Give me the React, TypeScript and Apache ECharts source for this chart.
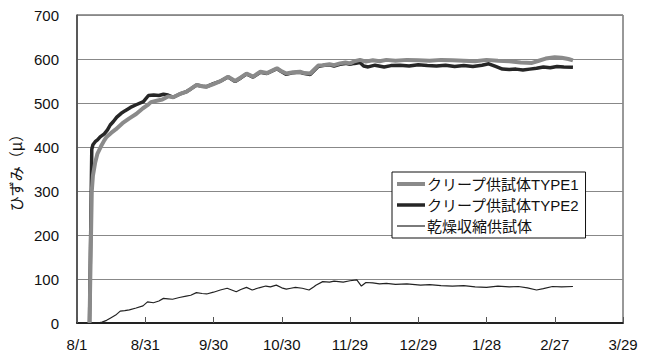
import React, { useEffect, useRef } from "react";
import * as echarts from "echarts";

// Date ticks every 30 days starting from 8/1 (day 0)
const xTickLabels = ["8/1", "8/31", "9/30", "10/30", "11/29", "12/29", "1/28", "2/27", "3/29"];

const seriesNames = ["クリープ供試体TYPE1", "クリープ供試体TYPE2", "乾燥収縮供試体"];

// Creep specimen TYPE1: elapsed day / strain (μ)
const type1Days = [
  5.5, 6.5, 7, 8, 9, 10.5, 12, 13, 15, 17, 20, 23, 26, 29, 31, 32.5, 35, 37.5, 40, 42.3,
  45, 48.2, 50, 52.6, 55, 57, 60, 62.8, 66.4, 69.5, 72, 74.5, 77.4, 80.6, 83.5, 87.9, 90, 92,
  95, 98, 100, 102.5, 106, 108, 111, 113, 115.6, 118, 120, 122, 124.4, 127, 130, 133, 136,
  140, 145, 150, 155, 160, 165, 170, 175, 180, 185, 190, 195, 200, 203, 206, 210, 213, 216, 218,
];
const type1Values = [
  0, 300, 335, 365, 385, 401, 415, 423, 432, 440, 454, 465, 475, 488, 495, 502, 505, 508, 515, 513,
  520, 526, 532, 541, 538, 537, 543, 549, 560, 550, 558, 567, 560, 571, 568, 579, 572, 567,
  570, 571, 568, 567, 585, 586, 588, 586, 590, 592, 590, 595, 598, 594, 597, 595, 598,
  596, 598, 597, 596, 598, 597, 596, 595, 598, 596, 595, 592, 591, 596, 601, 604, 603, 600, 597,
];

// Creep specimen TYPE2
const type2Days = [
  5.5, 6.5, 7, 8, 9, 10.2, 12, 13.4, 14.6, 16, 17.5, 19.3, 21, 23.5, 26, 29.2, 31.4, 33.7, 36, 38,
  40, 42.3, 45, 48.2, 50, 52.6, 55, 57, 60, 62.8, 66.4, 69.5, 72, 74.5, 77.4, 80.6, 83.5, 87.9,
  90, 92, 95, 98, 100, 102.5, 106, 108, 111, 113, 115.6, 118, 120, 122, 124.4, 126, 128, 131,
  135, 138, 142, 146, 150, 154, 158, 162, 166, 170, 174, 178, 181, 184, 187, 190, 193, 196, 199,
  202, 205, 208, 211, 214, 218,
];
const type2Values = [
  0, 395, 405, 412, 416, 423, 430, 439, 450, 458, 468, 476, 482, 490, 496, 503, 517, 518, 517, 520,
  518, 513, 520, 526, 532, 541, 538, 537, 544, 549, 559, 549, 557, 566, 559, 570, 567, 578,
  571, 565, 569, 570, 567, 565, 583, 585, 587, 584, 588, 590, 588, 590, 592, 584, 582, 586,
  582, 585, 586, 584, 587, 585, 584, 586, 583, 585, 583, 586, 589, 583, 577, 576, 577, 575, 577,
  579, 582, 580, 583, 582, 581,
];

// Drying shrinkage specimen
const shrinkDays = [
  5.5, 9, 11, 13, 14.6, 17, 19, 21, 23, 26, 29, 31, 33.6, 36, 38, 40, 42, 45, 48, 50, 52.5, 55,
  57, 60, 63, 66, 68, 70, 72, 74.5, 77, 80, 83, 85, 87.6, 90, 92, 94, 96, 99, 102, 104, 105,
  108, 111, 113, 117, 120, 123, 125, 127, 130, 133, 136, 140, 145, 151, 155, 160, 165, 170,
  175, 180, 185, 190, 194, 198, 202, 205, 209, 213, 218,
];
const shrinkValues = [
  0, 0, 2, 6, 11, 18, 27, 28, 30, 34, 39, 48, 46, 50, 56, 55, 54, 58, 61, 63, 69, 67,
  66, 70, 75, 79, 75, 71, 76, 81, 75, 80, 84, 82, 86, 80, 77, 79, 81, 79, 75, 82, 86,
  94, 93, 95, 93, 96, 98, 84, 92, 91, 89, 90, 88, 89, 86, 87, 85, 84, 85,
  82, 81, 84, 82, 83, 80, 75, 78, 83, 82, 83,
];

const pairs = (xs: number[], ys: number[]) => xs.map((x, i) => [x, ys[i]]);

const FONT = "'Liberation Sans', 'Noto Sans CJK JP', sans-serif";

// Line appearance per series (colour, width)
const lineColors = ["#8a8a8a", "#262626", "#222222"];
const lineWidths = [4, 3.5, 1.2];

export default function App() {
  const ref = useRef<HTMLDivElement>(null);

  useEffect(() => {
    if (!ref.current) return;
    const chart = echarts.init(ref.current, undefined, { renderer: "svg" });
    chart.setOption({
      animation: false,
      backgroundColor: "#ffffff",
      textStyle: { fontFamily: FONT },
      grid: {
        left: 76,
        right: 23,
        top: 15,
        bottom: 34,
        show: true,
        borderColor: "#333",
        borderWidth: 1,
      },
      legend: {
        orient: "vertical",
        left: 392,
        top: 172,
        data: seriesNames.map((name, i) => ({
          name,
          lineStyle: { width: lineWidths[i], color: lineColors[i] },
        })),
        backgroundColor: "#ffffff",
        borderColor: "#111",
        borderWidth: 1,
        borderRadius: 0,
        padding: [2, 6, 2, 3],
        itemGap: 1,
        itemWidth: 28,
        itemHeight: 2,
        itemStyle: { opacity: 0 },
        textStyle: { fontSize: 15, color: "#111", fontFamily: FONT, lineHeight: 20, padding: [0, 0, 0, -3] },
      },
      xAxis: {
        type: "value",
        min: 0,
        max: 240,
        interval: 30,
        axisLine: { show: true, lineStyle: { color: "#222", width: 2 } },
        axisTick: { show: true, inside: true, length: 6, lineStyle: { color: "#555", width: 1 } },
        splitLine: { show: false },
        axisLabel: {
          margin: 14,
          fontSize: 15,
          color: "#111",
          fontFamily: FONT,
          formatter: (v: number) => xTickLabels[Math.round(v / 30)] ?? "",
        },
      },
      yAxis: {
        type: "value",
        min: 0,
        max: 700,
        interval: 100,
        name: "ひずみ（μ）",
        nameLocation: "middle",
        nameGap: 54,
        nameTextStyle: { fontSize: 15, color: "#111", fontFamily: "'Noto Sans CJK JP', sans-serif" },
        axisLine: { show: true, lineStyle: { color: "#444", width: 1.5 } },
        axisTick: { show: false },
        splitLine: { show: true, lineStyle: { color: "#888", width: 1 } },
        axisLabel: { margin: 18, fontSize: 15, color: "#111", fontFamily: FONT },
      },
      series: [
        {
          name: seriesNames[0],
          type: "line",
          data: pairs(type1Days, type1Values),
          showSymbol: false,
          symbol: "none",
          lineStyle: { color: lineColors[0], width: lineWidths[0] },
          itemStyle: { color: lineColors[0] },
          z: 3,
        },
        {
          name: seriesNames[1],
          type: "line",
          data: pairs(type2Days, type2Values),
          showSymbol: false,
          symbol: "none",
          lineStyle: { color: lineColors[1], width: lineWidths[1] },
          itemStyle: { color: lineColors[1] },
          z: 2,
        },
        {
          name: seriesNames[2],
          type: "line",
          data: pairs(shrinkDays, shrinkValues),
          showSymbol: false,
          symbol: "none",
          lineStyle: { color: lineColors[2], width: lineWidths[2] },
          itemStyle: { color: lineColors[2] },
          z: 2,
        },
      ],
    });
    return () => chart.dispose();
  }, []);

  return (
    <div
      ref={ref}
      style={{ position: "fixed", left: 0, top: 0, width: 646, height: 357 }}
    />
  );
}
